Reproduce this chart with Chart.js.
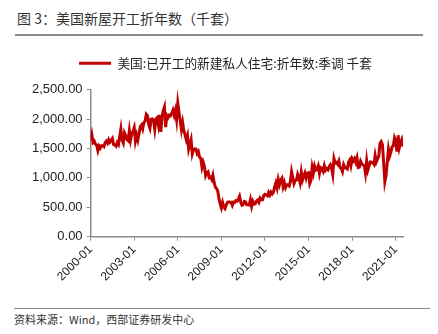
<!DOCTYPE html>
<html>
<head>
<meta charset="utf-8">
<script src="https://cdn.jsdelivr.net/npm/chart.js@4.4.1/dist/chart.umd.min.js"></script>
<style>
  body { margin: 0; width: 438px; height: 334px; background: #fff; position: relative; overflow: hidden; font-family: "Noto Sans CJK SC", sans-serif; }
  #title { position: absolute; left: 17px; top: 8px; font-size: 14px; line-height: 20px; color: #333; }
  #topLine { position: absolute; left: 15px; top: 34px; width: 408px; height: 2px; background: #8a8a8a; }
  #wrap { position: absolute; left: 0; top: 42px; width: 438px; height: 266px; }
  #bottomLine { position: absolute; left: 14px; top: 308px; width: 416px; height: 1px; background: #8a8a8a; }
  #source { position: absolute; left: 14px; top: 311px; font-size: 11px; line-height: 16px; color: #333; }
</style>
</head>
<body>
<div id="title">图 3：美国新屋开工折年数（千套）</div>
<div id="topLine"></div>
<div id="wrap"><canvas id="lineChart"></canvas></div>
<div id="bottomLine"></div>
<div id="source">资料来源：Wind，西部证券研发中心</div>

<script>
// monthly housing starts, SAAR, thousands (2000-01 .. 2021-07)
const starts = [
    1636, 1737, 1604, 1626, 1575, 1559, 1463, 1541, 1507, 1549, 1551, 1532, // 2000
    1600, 1625, 1590, 1649, 1605, 1636, 1670, 1567, 1562, 1540, 1602, 1568, // 2001
    1698, 1829, 1642, 1592, 1764, 1717, 1655, 1633, 1804, 1648, 1753, 1788, // 2002
    1853, 1629, 1726, 1643, 1751, 1867, 1897, 1833, 1939, 1967, 2083, 2057, // 2003
    1911, 1846, 1998, 2003, 1981, 1828, 2002, 2024, 1905, 2072, 1782, 2042, // 2004
    2144, 2207, 1864, 2061, 2025, 2068, 2054, 2095, 2151, 2065, 2147, 1994, // 2005
    2273, 2119, 1969, 1821, 1942, 1802, 1737, 1650, 1720, 1491, 1570, 1649, // 2006
    1409, 1480, 1495, 1490, 1415, 1448, 1354, 1330, 1183, 1264, 1197, 1037, // 2007
    1084, 1103, 1005, 1013, 973, 1046, 923, 844, 820, 777, 652, 560,        // 2008
    490, 582, 505, 478, 540, 585, 594, 586, 585, 534, 588, 581,             // 2009
    614, 604, 636, 687, 583, 536, 546, 599, 592, 543, 545, 539,             // 2010
    630, 517, 600, 554, 561, 608, 623, 585, 656, 627, 627, 699,             // 2011
    720, 710, 694, 753, 708, 757, 728, 754, 847, 915, 833, 976,             // 2012
    888, 962, 994, 849, 919, 835, 883, 883, 864, 936, 1105, 1003,           // 2013
    903, 955, 965, 1060, 1001, 918, 1095, 964, 1028, 1085, 1000, 1081,      // 2014
    1088, 904, 958, 1182, 1085, 1198, 1130, 1140, 1201, 1075, 1175, 1160,   // 2015
    1114, 1207, 1128, 1156, 1137, 1195, 1223, 1164, 1054, 1328, 1255, 1265, // 2016
    1236, 1289, 1179, 1162, 1108, 1225, 1177, 1162, 1149, 1264, 1303, 1209, // 2017
    1327, 1290, 1327, 1267, 1340, 1177, 1184, 1282, 1237, 1217, 1214, 1079, // 2018
    1291, 1134, 1199, 1270, 1265, 1259, 1230, 1382, 1274, 1323, 1371, 1587, // 2019
    1617, 1567, 1269, 934, 1038, 1265, 1487, 1373, 1437, 1530, 1547, 1680,  // 2020
    1625, 1447, 1725, 1514, 1594, 1650, 1534                                // 2021
];
const firstYear = 2000;
const tickLabels = ['2000-01', '2003-01', '2006-01', '2009-01', '2012-01', '2015-01', '2018-01', '2021-01'];
const yTicks = [0, 500, 1000, 1500, 2000, 2500];
const seriesName = '美国:已开工的新建私人住宅:折年数:季调 千套';

// month labels for each point
const months = starts.map((v, i) => {
    const y = firstYear + Math.floor(i / 12);
    const m = (i % 12) + 1;
    return y + '-' + (m < 10 ? '0' + m : m);
});

const points = starts.map((v, i) => ({ x: i, y: v }));
const lineColor = '#c00000';
const axisColor = '#8c8c8c';

// extra room between legend and plot, and nudge legend a bit to the right
const legendTweak = {
    id: 'legendTweak',
    beforeInit(chart) {
        const fit = chart.legend.fit;
        chart.legend.fit = function () {
            fit.bind(chart.legend)();
            this.height += 10;
        };
    },
    afterLayout(chart) {
        chart.legend.left += 10;
        chart.legend.right += 10;
    }
};

new Chart(document.getElementById('lineChart'), {
    type: 'line',
    data: {
        datasets: [{
            label: seriesName,
            data: points,
            borderColor: lineColor,
            backgroundColor: lineColor,
            borderWidth: 3,
            pointRadius: 0,
            tension: 0
        }]
    },
    plugins: [legendTweak],
    options: {
        responsive: true,
        maintainAspectRatio: false,
        animation: false,
        layout: { padding: { left: 28, right: 35, top: 9, bottom: 22 } },
        plugins: {
            tooltip: { enabled: false },
            legend: {
                labels: {
                    boxWidth: 32,
                    boxHeight: 3,
                    color: '#222',
                    font: { family: '"Noto Sans CJK SC"', size: 12.7 },
                    padding: 6,
                    // plain filled bar instead of an outlined box
                    generateLabels: (chart) => Chart.defaults.plugins.legend.labels.generateLabels(chart)
                        .map(item => Object.assign(item, { lineWidth: 0, fillStyle: lineColor }))
                }
            }
        },
        scales: {
            x: {
                type: 'linear',
                min: 0,
                max: starts.length - 1,
                afterBuildTicks: (axis) => {
                    axis.ticks = tickLabels.map(l => ({ value: months.indexOf(l) }));
                },
                ticks: {
                    autoSkip: false,
                    maxRotation: 45,
                    minRotation: 45,
                    color: '#222',
                    font: { family: '"Liberation Sans", Arial', size: 12 },
                    padding: 2,
                    callback: (v) => months[v]
                },
                grid: { drawOnChartArea: false, color: axisColor, tickLength: 4 },
                border: { color: axisColor, width: 1.5 }
            },
            y: {
                min: 0,
                max: 2500,
                afterBuildTicks: (axis) => {
                    axis.ticks = yTicks.map(v => ({ value: v }));
                },
                ticks: {
                    color: '#222',
                    font: { family: '"Liberation Sans", Arial', size: 13 },
                    padding: 4,
                    callback: (v) => v.toLocaleString('en-US', { minimumFractionDigits: 2, maximumFractionDigits: 2 })
                },
                grid: { drawOnChartArea: false, color: axisColor, tickLength: 4 },
                border: { color: axisColor, width: 1.5 }
            }
        }
    }
});
</script>
</body>
</html>
